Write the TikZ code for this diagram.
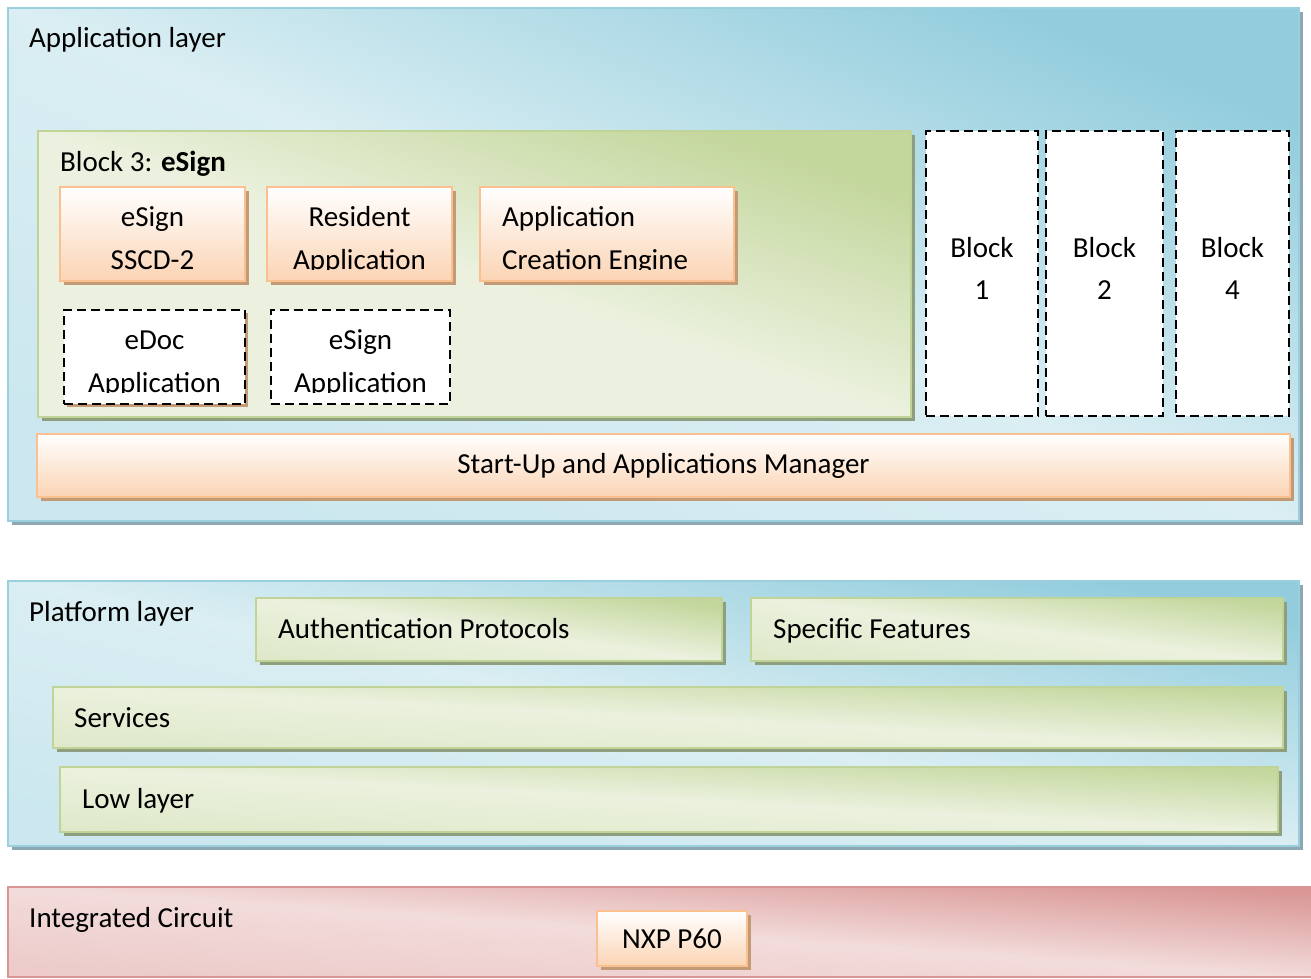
\documentclass[tikz,border=0pt]{standalone}
\usepackage{fontspec}
\setmainfont{Carlito}
\usetikzlibrary{shadows}

\definecolor{bluelight}{HTML}{DAEEF3}
\definecolor{bluedark}{HTML}{93CDDD}
\definecolor{blueline}{HTML}{9ACFDE}
\definecolor{blueshade}{HTML}{8DA8B3}
\definecolor{greenlight}{HTML}{EBF1DE}
\definecolor{greendark}{HTML}{C3D69B}
\definecolor{greenline}{HTML}{C0D497}
\definecolor{greenshade}{HTML}{8E9F80}
\definecolor{orangedark}{HTML}{FBD4B4}
\definecolor{orangeline}{HTML}{FAC090}
\definecolor{orangeshade}{HTML}{C29A76}
\definecolor{pinklight}{HTML}{F2DCDB}
\definecolor{pinkdark}{HTML}{D99694}

\tikzset{
  box/.style={rectangle, anchor=north west, inner sep=0pt, outer sep=0pt},
  glow/.style n args={4}{top color=#1, bottom color=#3, middle color=#2, shading angle=#4},
  layer/.style={box, draw=blueline, line width=2pt, glow={bluedark}{bluelight}{bluelight!80!bluedark}{#1},
    general shadow={fill=blueshade, shadow xshift=4pt, shadow yshift=-4pt}},
  group/.style={box, draw=greenline, line width=2.5pt, glow={greendark}{greenlight}{greenlight}{-18},
    general shadow={fill=greenshade, shadow xshift=4pt, shadow yshift=-4pt}},
  bar/.style={box, draw=greenline, line width=2.5pt, glow={greendark}{greenlight}{greenlight!70!greendark}{#1},
    general shadow={fill=greenshade, shadow xshift=4pt, shadow yshift=-4pt}},
  appbox/.style={box, draw=orangeline, line width=2.5pt, top color=white, bottom color=orangedark,
    middle color=white!50!orangedark, general shadow={fill=orangeshade, shadow xshift=4pt, shadow yshift=-4pt}},
  spare/.style={box, draw=black, fill=white, line width=2.5pt, dash pattern=on 9pt off 5pt},
  chip/.style={box, draw=pinkdark, line width=2pt, glow={pinkdark}{pinklight}{pinklight!75!pinkdark}{-4}},
  txt/.style={anchor=base west, inner sep=0pt},
  ctxt/.style={anchor=base, inner sep=0pt}
}

\begin{document}
\begin{tikzpicture}[x=1pt, y=-1pt, font=\fontsize{29}{43}\selectfont]
  \useasboundingbox (0,0) rectangle (1311,978);

  % application layer
  \node[layer=-22, minimum width=1291pt, minimum height=513pt] (applayer) at (8,8) {};
  \node[txt] (applbl) at (29,47) {Application layer};
  \node[group, minimum width=873pt, minimum height=286pt] (block3) at (38,131) {};
  \node[txt] (block3lbl) at (60,171) {Block 3: \textbf{eSign}};
  \node[appbox, minimum width=185pt, minimum height=94pt] (sscd) at (60,187) {};
  \node[appbox, minimum width=185pt, minimum height=94pt] (res) at (267,187) {};
  \node[appbox, minimum width=254pt, minimum height=94pt] (ace) at (480,187) {};
  \node[spare, general shadow={fill=orangeshade, shadow xshift=3pt, shadow yshift=-3pt},
    minimum width=181pt, minimum height=94pt] (edoc) at (64,310) {};
  \node[spare, minimum width=179pt, minimum height=94pt] (esapp) at (271,310) {};
  \foreach \b/\lineA/\lineB in {sscd/eSign/SSCD-2, res/Resident/Application, edoc/eDoc/Application, esapp/eSign/Application}{
    \begin{scope}
      \clip (\b.north west) rectangle ([yshift=12pt]\b.south east);
      \node[ctxt] (\b-a) at ([yshift=-39pt]\b.north) {\lineA};
      \node[ctxt] (\b-b) at ([yshift=-82pt]\b.north) {\lineB};
    \end{scope}
  }
  \begin{scope}
    \clip (ace.north west) rectangle ([yshift=12pt]ace.south east);
    \node[txt] (ace-a) at ([shift={(22,39)}]ace.north west) {Application};
    \node[txt] (ace-b) at ([shift={(22,82)}]ace.north west) {Creation Engine};
  \end{scope}
  \foreach \x/\w/\n in {926/112/1, 1046/117/2, 1176/113/4}{
    \node[spare, minimum width=\w pt, minimum height=285pt] (blk\n) at (\x,131) {};
    \node[ctxt] (blk\n-a) at ([yshift=-126pt]blk\n.north) {Block};
    \node[ctxt] (blk\n-b) at ([yshift=-168pt]blk\n.north) {\n};
  }
  \node[appbox, minimum width=1253pt, minimum height=63pt] (startup) at (37,434) {Start-Up and Applications Manager};

  % platform layer
  \node[layer=-12, minimum width=1291pt, minimum height=265pt] (platform) at (8,581) {};
  \node[txt] (platlbl) at (29,621) {Platform layer};
  \node[bar=-8, minimum width=466pt, minimum height=63pt] (auth) at (256,598) {};
  \node[txt] (authlbl) at ([shift={(22,40)}]auth.north west) {Authentication Protocols};
  \node[bar=-7, minimum width=532pt, minimum height=63pt] (spec) at (751,598) {};
  \node[txt] (speclbl) at ([shift={(22,40)}]spec.north west) {Specific Features};
  \node[bar=-3, minimum width=1230pt, minimum height=61pt] (serv) at (53,687) {};
  \node[txt] (servlbl) at ([shift={(21,40)}]serv.north west) {Services};
  \node[bar=-3, minimum width=1218pt, minimum height=65pt] (low) at (60,767) {};
  \node[txt] (lowlbl) at ([shift={(22,41)}]low.north west) {Low layer};

  % integrated circuit
  \node[chip, minimum width=1310pt, minimum height=90pt] (ic) at (8,887) {};
  \node[txt] (iclbl) at (29,927) {Integrated Circuit};
  \node[appbox, minimum width=150pt, minimum height=55pt] (nxp) at (597,911) {NXP P60};
\end{tikzpicture}
\end{document}
